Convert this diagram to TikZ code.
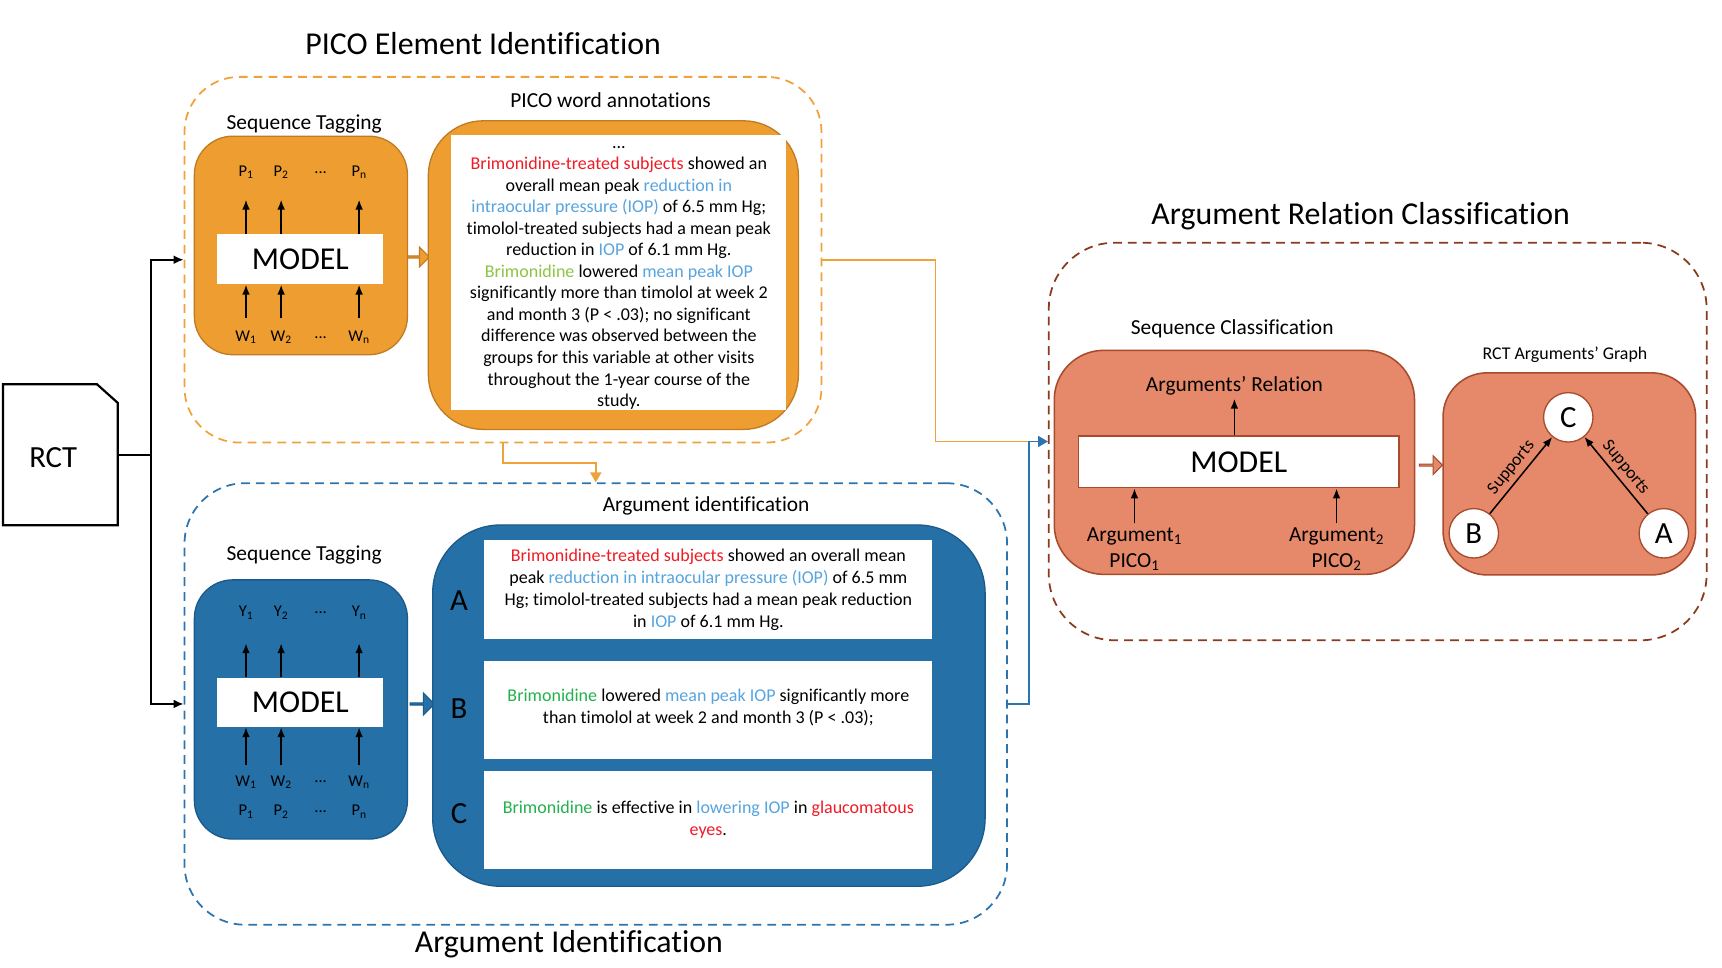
\documentclass[tikz,border=0pt]{standalone}
\usepackage{fontspec}
\setmainfont{Carlito}[Ligatures=NoCommon]
\usetikzlibrary{arrows.meta,calc,shapes.arrows}
\definecolor{cOr}{HTML}{EE9D30}
\definecolor{cOrD}{HTML}{C07B25}
\definecolor{cOrDash}{HTML}{F0A23A}
\definecolor{cBl}{HTML}{2470A7}
\definecolor{cBlD}{HTML}{1C5A8A}
\definecolor{cBlDash}{HTML}{2C74B0}
\definecolor{cSa}{HTML}{E6896A}
\definecolor{cSaD}{HTML}{A84B2C}
\definecolor{cReDash}{HTML}{8A3B1D}
\definecolor{tRed}{HTML}{EE1C25}
\definecolor{tBlue}{HTML}{57A4DF}
\definecolor{tLGreen}{HTML}{8DC543}
\definecolor{tGreen}{HTML}{22B14C}
\newcommand{\fsz}[2]{\fontsize{#1}{#2}\selectfont}
\begin{document}
\begin{tikzpicture}[x=1pt,y=-1pt,
  ttl/.style={font=\fsz{29}{34}},
  lbl/.style={font=\fsz{19.5}{24}, align=center},
  body/.style={font=\fsz{16.4}{19.6}, align=center},
  sm/.style={font=\fsz{15}{18}},
  big/.style={font=\fsz{28}{32}},
  dashbox/.style={rectangle, dash pattern=on 8pt off 5.5pt, line width=1.6pt, inner sep=0pt},
  obox/.style={rectangle, fill=cOr, draw=cOrD, line width=1.2pt, inner sep=0pt},
  bbox/.style={rectangle, fill=cBl, draw=cBlD, line width=1.2pt, inner sep=0pt},
  sbox/.style={rectangle, fill=cSa, draw=cSaD, line width=1.4pt, inner sep=0pt},
  wbox/.style={rectangle, fill=white, inner sep=0pt, font=\fsz{29}{34}},
  wrect/.style={rectangle, fill=white, inner sep=0pt, font=\fsz{16.4}{19.8}, align=center},
  circ/.style={circle, fill=white, draw=cSaD, line width=1.2pt, minimum size=45pt, inner sep=0pt, font=\fsz{28}{32}},
  arr/.style={-{Latex[length=9pt,width=7pt]}, line width=1.5pt},
  arrk/.style={-{Latex[length=9pt,width=8pt]}, line width=2pt},
  oline/.style={draw=cOrDash, line width=1.6pt},
  bline/.style={draw=cBlDash, line width=1.6pt},
  barrow/.style={single arrow, inner sep=0pt, line width=1pt},
  sup/.style={sloped, above, font=\fsz{16}{18}, inner sep=4pt}
]
\useasboundingbox (0,0) rectangle (1568,881);

% titles
\node[ttl] (t1) at (440,40) {PICO Element Identification};
\node[ttl] (t2) at (518,860) {Argument Identification};
\node[ttl] (t3) at (1239,197) {Argument Relation Classification};

% dashed containers
\node[dashbox, draw=cOrDash, minimum width=580pt, minimum height=333pt, rounded corners=50pt] (dO) at (458,236.5) {};
\node[dashbox, draw=cBlDash, minimum width=749pt, minimum height=402pt, rounded corners=55pt] (dB) at (542.5,641) {};
\node[dashbox, draw=cReDash, minimum width=599pt, minimum height=362pt, rounded corners=60pt] (dR) at (1254.5,402) {};

% ---------- PICO part ----------
\node[lbl] (lsP) at (277,113) {Sequence Tagging};
\node[obox, minimum width=194pt, minimum height=199pt, rounded corners=35pt] (sP) at (274,223.5) {};
\node[wbox, minimum width=151pt, minimum height=46pt] (mP) at (273.5,236) {MODEL};
\node[sm] (pP1) at (224,157) {P\textsubscript{1}};
\node[sm] (pP2) at (256,157) {P\textsubscript{2}};
\node[sm] (pPd) at (292,157) {...};
\node[sm] (pPn) at (327,157) {P\textsubscript{n}};
\node[sm] (wP1) at (224,307) {W\textsubscript{1}};
\node[sm] (wP2) at (256,307) {W\textsubscript{2}};
\node[sm] (wPd) at (292,307) {...};
\node[sm] (wPn) at (327,307) {W\textsubscript{n}};
\foreach \n in {1,2,n}{
  \draw[arr] (mP.north -| pP\n) -- ++(0,-31);
  \draw[arr] (wP\n.center) ++(0,-17) -- (wP\n |- mP.south);
}
\node[barrow, fill=cOr, draw=cOrD, minimum height=20pt, minimum width=18pt, single arrow head extend=4.5pt] (baO) at (380.5,234) {};

\node[lbl] (lPico) at (556,91) {PICO word annotations};
\node[obox, minimum width=337pt, minimum height=281pt, rounded corners=50pt] (pico) at (558.5,250.5) {};
\node[wrect, minimum width=305pt, minimum height=250pt] (picoW) at (563.5,248) {};
\node[body] (picoT) at (563.5,253) {...\\
\textcolor{tRed}{Brimonidine-treated subjects} showed an\\
overall mean peak \textcolor{tBlue}{reduction in}\\
\textcolor{tBlue}{intraocular pressure (IOP)} of 6.5 mm Hg;\\
timolol-treated subjects had a mean peak\\
reduction in \textcolor{tBlue}{IOP} of 6.1 mm Hg.\\
\textcolor{tLGreen}{Brimonidine} lowered \textcolor{tBlue}{mean peak IOP}\\
significantly more than timolol at week 2\\
and month 3 (P < .03); no significant\\
difference was observed between the\\
groups for this variable at other visits\\
throughout the 1-year course of the\\
study.};

% ---------- Argument identification ----------
\node[lbl] (lsB) at (277,505) {Sequence Tagging};
\node[bbox, minimum width=194pt, minimum height=236pt, rounded corners=35pt] (sB) at (274,646) {};
\node[wbox, minimum width=151pt, minimum height=45pt] (mB) at (273.5,639.5) {MODEL};
\node[sm] (yB1) at (224,558) {Y\textsubscript{1}};
\node[sm] (yB2) at (256,558) {Y\textsubscript{2}};
\node[sm] (yBd) at (292,558) {...};
\node[sm] (yBn) at (327,558) {Y\textsubscript{n}};
\node[sm] (wB1) at (224,712) {W\textsubscript{1}};
\node[sm] (wB2) at (256,712) {W\textsubscript{2}};
\node[sm] (wBd) at (292,712) {...};
\node[sm] (wBn) at (327,712) {W\textsubscript{n}};
\node[sm] (qB1) at (224,739) {P\textsubscript{1}};
\node[sm] (qB2) at (256,739) {P\textsubscript{2}};
\node[sm] (qBd) at (292,739) {...};
\node[sm] (qBn) at (327,739) {P\textsubscript{n}};
\foreach \n in {1,2,n}{
  \draw[arr] (mB.north -| yB\n) -- ++(0,-31);
  \draw[arr] (wB\n.center) ++(0,-15) -- (wB\n |- mB.south);
}
\node[barrow, fill=cBl, draw=cBlD, minimum height=22pt, minimum width=20pt, single arrow head extend=4.7pt] (baB) at (384,641) {};

\node[lbl] (lArg) at (643,461) {Argument identification};
\node[bbox, minimum width=503pt, minimum height=329pt, rounded corners=62pt] (argb) at (645.5,642.5) {};
\node[big] (lA) at (418,547) {A};
\node[big] (lB) at (418,645) {B};
\node[big] (lC) at (418,741) {C};
\node[wrect, minimum width=408pt, minimum height=90pt] (rA) at (645,537) {%
\textcolor{tRed}{Brimonidine-treated subjects} showed an overall mean\\
peak \textcolor{tBlue}{reduction in intraocular pressure (IOP)} of 6.5 mm\\
Hg; timolol-treated subjects had a mean peak reduction\\
in \textcolor{tBlue}{IOP} of 6.1 mm Hg.};
\node[wrect, minimum width=408pt, minimum height=89pt] (rB) at (645,646.5) {};
\node[wrect] (tB) at (645,644) {%
\textcolor{tGreen}{Brimonidine} lowered \textcolor{tBlue}{mean peak IOP} significantly more\\
than timolol at week 2 and month 3 (P < .03);};
\node[wrect, minimum width=408pt, minimum height=89pt] (rC) at (645,746.5) {%
\textcolor{tGreen}{Brimonidine} is effective in \textcolor{tBlue}{lowering IOP} in \textcolor{tRed}{glaucomatous}\\
\textcolor{tRed}{eyes}.};

% ---------- Relation classification ----------
\node[lbl] (lSC) at (1122,299) {Sequence Classification};
\node[sbox, minimum width=328pt, minimum height=204pt, rounded corners=45pt] (sC) at (1124,421) {};
\node[lbl] (rel) at (1124,351) {Arguments’ Relation};
\node[wbox, draw=cSaD, line width=1.5pt, minimum width=292pt, minimum height=47pt] (mC) at (1128,420.5) {MODEL};
\draw[arr] (mC.north -| rel) -- (rel.south);
\node[lbl] (a1) at (1033,500) {Argument\textsubscript{1}\\PICO\textsubscript{1}};
\node[lbl] (a2) at (1217,500) {Argument\textsubscript{2}\\PICO\textsubscript{2}};
\draw[arr] (a1.north) -- (a1.north |- mC.south);
\draw[arr] (a2.north) -- (a2.north |- mC.south);
\node[barrow, fill=cSa, draw=cSaD, minimum height=21pt, minimum width=17pt, single arrow head extend=4.3pt] (baS) at (1302.5,423.5) {};

\node[font=\fsz{16.3}{19}] (lG) at (1425,323) {RCT Arguments’ Graph};
\node[sbox, minimum width=230pt, minimum height=184pt, rounded corners=40pt] (gB) at (1429,431.5) {};
\node[circ] (cC) at (1428,380) {C};
\node[circ] (cB) at (1342,485.6) {B};
\node[circ] (cA) at (1515,485.6) {A};
\draw[arr, line width=1.4pt] (cB) -- node[sup] {Supports} (cC);
\draw[arr, line width=1.4pt] (cA) -- node[sup] {Supports} (cC);

% ---------- RCT and connectors ----------
\node[minimum width=104pt, minimum height=128pt, inner sep=0pt] (rct) at (55,414) {};
\node[font=\fsz{28}{32}] (rctT) at (48.5,417) {RCT};
\draw[line width=2pt, line join=miter] (rct.north west) -- ($(rct.north east)+(-19,0)$) -- ($(rct.north east)+(0,17)$) -- (rct.south east) -- (rct.south west) -- cycle;
\coordinate (split) at (137.5,414);
\draw[line width=2pt] (rct.east) -- (split);
\draw[arrk] (split) |- (dO.west);
\draw[arrk] (split) |- (dB.west);

\draw[oline, -{Triangle[length=9pt,width=10pt]}] (dO.south) -- ++(0,18) -| (dB.north);
\draw[oline] (dO.east) -- ++(103,0) |- (dR.west);
\draw[bline, -{Triangle[length=9pt,width=10pt]}] (dB.east) -- ++(19,0) |- (dR.west);
\end{tikzpicture}
\end{document}
